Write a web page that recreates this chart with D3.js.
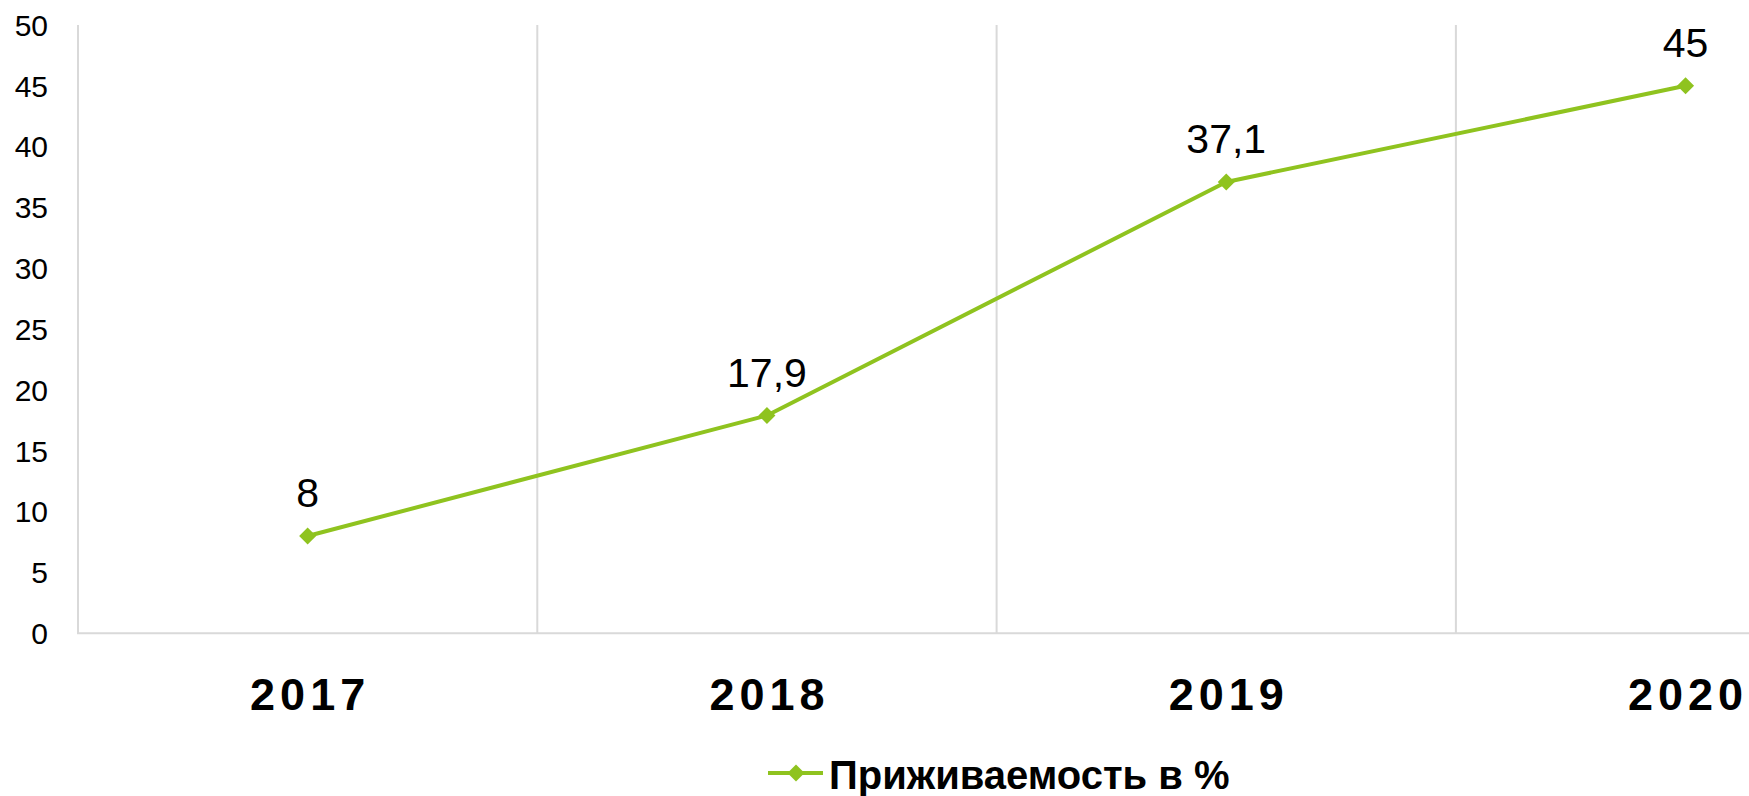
<!DOCTYPE html>
<html>
<head>
<meta charset="utf-8">
<script src="https://cdn.jsdelivr.net/npm/d3@7"></script>
<style>
  html, body { margin: 0; padding: 0; background: #fff; overflow: hidden; }
  svg { display: block; }
</style>
</head>
<body>
<svg id="chart" width="1749" height="796"></svg>
<script>
const years = ["2017", "2018", "2019", "2020"];
const values = [8, 17.9, 37.1, 45];
const valueLabels = ["8", "17,9", "37,1", "45"];
const yTicks = [0, 5, 10, 15, 20, 25, 30, 35, 40, 45, 50];
const seriesName = "Приживаемость в %";

const W = 1749, H = 796;
const plotLeft = 78, plotTop = 25, plotBottom = 633.3, bandW = 459.3;
const green = "#8fc31f";
const gridColor = "#d9d9d9";
const font = "'Liberation Sans', Arial, sans-serif";

const svg = d3.select("#chart");

const x = d3.scaleBand().domain(years).range([plotLeft, plotLeft + bandW * years.length]).padding(0);
const y = d3.scaleLinear().domain([0, 50]).range([plotBottom, plotTop]);

// vertical category gridlines (band boundaries)
const boundaries = years.slice(1).map(d => x(d));
svg.append("g").selectAll("line").data(boundaries).join("line")
  .attr("x1", d => d).attr("x2", d => d)
  .attr("y1", y(50)).attr("y2", y(0))
  .attr("stroke", gridColor).attr("stroke-width", 2);

// axes lines
svg.append("line").attr("x1", plotLeft).attr("x2", plotLeft)
  .attr("y1", y(50)).attr("y2", y(0)).attr("stroke", gridColor).attr("stroke-width", 2);
svg.append("line").attr("x1", plotLeft - 1).attr("x2", W)
  .attr("y1", y(0)).attr("y2", y(0)).attr("stroke", gridColor).attr("stroke-width", 2);

// y tick labels
svg.append("g").selectAll("text").data(yTicks).join("text")
  .attr("x", 48).attr("y", d => y(d)).attr("dy", "0.36em")
  .attr("text-anchor", "end")
  .attr("font-family", font).attr("font-size", 30).attr("fill", "#000")
  .text(d => d);

// x labels
const ls = 5;
svg.append("g").selectAll("text").data(years).join("text")
  .attr("x", d => x(d) + x.bandwidth() / 2 + ls / 2).attr("y", 710)
  .attr("text-anchor", "middle")
  .attr("font-family", font).attr("font-size", 45).attr("font-weight", "bold")
  .attr("letter-spacing", ls)
  .attr("fill", "#000")
  .text(d => d);

// line
const cx = d => x(d) + x.bandwidth() / 2;
const pts = years.map((d, i) => [cx(d), y(values[i])]);
svg.append("path").datum(pts)
  .attr("d", d3.line())
  .attr("fill", "none").attr("stroke", green).attr("stroke-width", 4)
  .attr("stroke-linejoin", "round");

// markers
const diamond = d3.symbol().type(d3.symbolDiamond2).size(185);
svg.append("g").selectAll("path").data(pts).join("path")
  .attr("transform", d => `translate(${d[0]},${d[1]})`)
  .attr("d", diamond).attr("fill", green);

// data labels
svg.append("g").selectAll("text").data(pts).join("text")
  .attr("x", d => d[0]).attr("y", d => d[1] - 29)
  .attr("text-anchor", "middle")
  .attr("font-family", font).attr("font-size", 41).attr("fill", "#000")
  .text((d, i) => valueLabels[i]);

// legend
const lg = svg.append("g");
lg.append("line").attr("x1", 768).attr("x2", 823).attr("y1", 773).attr("y2", 773)
  .attr("stroke", green).attr("stroke-width", 4);
lg.append("path").attr("transform", "translate(796,773)").attr("d", diamond).attr("fill", green);
lg.append("text").attr("x", 829).attr("y", 789)
  .attr("font-family", font).attr("font-size", 40).attr("font-weight", "bold").attr("fill", "#000")
  .text(seriesName);
</script>
</body>
</html>
